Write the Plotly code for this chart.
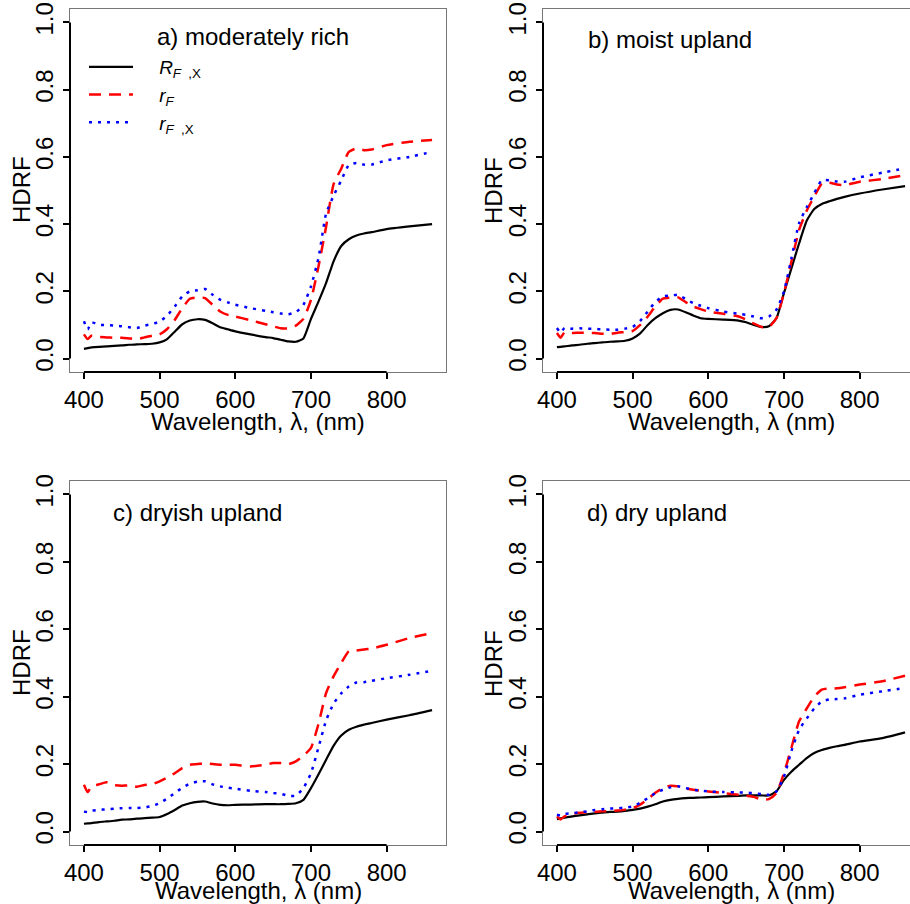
import plotly.graph_objects as go

# ---------------- data ----------------
wavelength = [400, 405, 410, 420, 430, 440, 450, 460, 470, 480, 490, 500, 510, 520, 530, 540, 550, 560, 570, 580,
              590, 600, 620, 640, 650, 660, 670, 680, 690, 700, 710, 720, 730, 740, 750, 760, 770, 780, 800, 830, 860]

# a) moderately rich
a_R_FX = [.029, .031, .033, .035, .036, .038, .039, .041, .042, .043, .044, .048, .058, .080, .102, .113, .117, .115, .105, .093,
          .087, .081, .072, .064, .061, .056, .051, .050, .060, .118, .170, .225, .290, .335, .355, .366, .372, .376, .385, .393, .400]
a_r_F = [.072, .058, .068, .064, .063, .062, .062, .060, .058, .063, .068, .072, .088, .115, .150, .178, .182, .180, .160, .140,
         .130, .125, .114, .102, .096, .090, .090, .098, .118, .175, .275, .393, .520, .565, .615, .625, .620, .622, .635, .645, .650]
a_r_FX = [.111, .087, .108, .100, .100, .098, .096, .093, .091, .098, .103, .110, .128, .155, .185, .200, .203, .207, .190, .175,
          .167, .160, .150, .142, .138, .134, .132, .138, .160, .215, .300, .432, .485, .530, .576, .582, .577, .577, .590, .600, .615]

# b) moist upland
b_R_FX = [.034, .035, .036, .039, .041, .044, .046, .048, .050, .051, .053, .060, .075, .100, .120, .135, .145, .146, .138, .128,
          .120, .118, .116, .113, .108, .100, .094, .096, .120, .195, .270, .343, .410, .445, .460, .468, .475, .481, .491, .503, .513]
b_r_F = [.076, .062, .078, .076, .077, .076, .076, .074, .073, .077, .079, .082, .100, .125, .155, .178, .181, .182, .168, .155,
         .147, .140, .133, .125, .116, .104, .094, .094, .120, .195, .290, .383, .440, .482, .520, .523, .518, .516, .526, .534, .546]
b_r_FX = [.091, .077, .091, .089, .090, .089, .088, .087, .086, .086, .089, .094, .112, .140, .168, .185, .187, .190, .177, .165,
          .157, .150, .140, .133, .130, .125, .120, .125, .145, .200, .300, .403, .450, .492, .531, .530, .527, .526, .539, .553, .566]

# c) dryish upland
c_R_FX = [.023, .024, .025, .028, .030, .032, .035, .036, .038, .040, .041, .043, .052, .064, .077, .084, .088, .089, .083, .079,
          .078, .079, .080, .081, .081, .081, .082, .084, .094, .129, .170, .213, .255, .285, .302, .311, .317, .322, .332, .345, .360]
c_r_F = [.139, .117, .134, .140, .146, .138, .136, .137, .133, .138, .140, .149, .160, .173, .188, .198, .200, .203, .200, .198,
         .198, .198, .193, .198, .203, .203, .200, .208, .225, .248, .320, .411, .461, .500, .535, .537, .540, .543, .554, .574, .589]
c_r_FX = [.059, .058, .062, .064, .066, .068, .069, .070, .070, .071, .076, .084, .098, .114, .130, .142, .148, .149, .140, .134,
          .130, .127, .121, .117, .114, .112, .106, .106, .129, .173, .250, .330, .380, .410, .430, .442, .443, .447, .455, .465, .477]

# d) dry upland
d_R_FX = [.037, .039, .041, .045, .048, .051, .054, .056, .058, .059, .061, .064, .068, .074, .081, .089, .094, .097, .099, .100,
          .101, .102, .104, .106, .107, .107, .107, .107, .119, .153, .178, .198, .218, .233, .242, .248, .253, .257, .267, .277, .294]
d_r_F = [.045, .036, .045, .052, .056, .057, .059, .060, .061, .062, .065, .069, .080, .096, .115, .129, .136, .134, .128, .124,
         .121, .119, .114, .109, .106, .103, .095, .096, .114, .173, .250, .327, .365, .400, .421, .424, .425, .428, .436, .446, .462]
d_r_FX = [.050, .048, .052, .054, .057, .060, .064, .066, .068, .069, .071, .074, .085, .099, .114, .124, .131, .134, .129, .124,
          .121, .119, .117, .116, .115, .114, .111, .109, .119, .163, .240, .302, .335, .365, .386, .392, .393, .395, .406, .416, .426]

panel_titles = ["a) moderately rich", "b) moist upland", "c) dryish upland", "d) dry upland"]
x_titles = ["Wavelength, λ, (nm)", "Wavelength, λ (nm)", "Wavelength, λ (nm)", "Wavelength, λ (nm)"]
y_title = "HDRF"
series_names = ["<i>R</i><sub><i>F</i>  ,X</sub>", "<i>r</i><sub><i>F</i></sub>", "<i>r</i><sub><i>F</i>  ,X</sub>"]
x_ticks = [400, 500, 600, 700, 800]
y_ticks = [0.0, 0.2, 0.4, 0.6, 0.8, 1.0]
y_ticktext = ["0.0", "0.2", "0.4", "0.6", "0.8", "1.0"]

panels = [(a_R_FX, a_r_F, a_r_FX), (b_R_FX, b_r_F, b_r_FX), (c_R_FX, c_r_F, c_r_FX), (d_R_FX, d_r_F, d_r_FX)]

# ---------------- styles ----------------
FONT = "Liberation Sans, Arial, sans-serif"
FS = 24
LFS = 19
styles = [dict(color="black", width=2.2, dash="solid"),
          dict(color="#ff0000", width=2.5, dash="12px,8px"),
          dict(color="#0000ff", width=2.5, dash="3px,6px")]

W, H = 910, 904
xdoms = [[70 / W, 446 / W], [543 / W, 1.0], [70 / W, 446 / W], [543 / W, 1.0]]
ydoms = [[1 - 372 / H, 1 - 9 / H], [1 - 372 / H, 1 - 9 / H], [1 - 845 / H, 1 - 481 / H], [1 - 845 / H, 1 - 481 / H]]
pxnm = (446 - 70) / (878.4 - 381.6)
xranges = [[381.6, 878.4], [381.6, 381.6 + (W - 543) / pxnm], [381.6, 878.4], [381.6, 381.6 + (W - 543) / pxnm]]
title_pos = [(155, 37), (586, 39), (111, 512), (585, 512)]
xtitle_pos = [(258, 421), (731, 421), (258, 890), (731, 890)]
ytitle_pos = [(21, 190), (493, 190), (21, 663), (493, 663)]

fig = go.Figure()
layout = dict(width=W, height=H, margin=dict(l=0, r=0, t=0, b=0), paper_bgcolor="white", plot_bgcolor="white",
              font=dict(family=FONT, size=FS, color="black"), showlegend=True)
shapes = []
annotations = []
for i, series in enumerate(panels):
    sx = "" if i == 0 else str(i + 1)
    for j, vals in enumerate(series):
        fig.add_trace(go.Scatter(x=wavelength, y=vals, mode="lines",
                                 name="\u00a0\u00a0\u00a0\u00a0" + series_names[j], legendgroup="g%d" % j,
                                 line=dict(color=styles[j]["color"], width=styles[j]["width"], dash=styles[j]["dash"],
                                           shape="spline", smoothing=0.5),
                                 showlegend=(i == 0), xaxis="x" + sx, yaxis="y" + sx, hoverinfo="skip"))
    layout["xaxis" + sx] = dict(domain=xdoms[i], range=xranges[i], anchor="y" + sx, tickvals=x_ticks,
                                ticks="outside", ticklen=6, tickwidth=2, tickcolor="black",
                                showline=True, linecolor="#777", linewidth=1, mirror=True, showgrid=False,
                                zeroline=False, automargin=False, tickfont=dict(size=FS))
    layout["yaxis" + sx] = dict(domain=ydoms[i], range=[-0.04, 1.04], anchor="x" + sx, tickvals=y_ticks,
                                ticktext=y_ticktext, tickangle=-90,
                                ticks="outside", ticklen=6, tickwidth=2, tickcolor="black",
                                showline=True, linecolor="#777", linewidth=1, mirror=True, showgrid=False,
                                zeroline=False, automargin=False, tickfont=dict(size=FS))
    # R-style axis lines spanning the tick range
    shapes.append(dict(type="line", xref="x" + sx, yref="y" + sx + " domain", x0=min(x_ticks), x1=max(x_ticks),
                       y0=0, y1=0, line=dict(color="black", width=2)))
    shapes.append(dict(type="line", xref="x" + sx + " domain", yref="y" + sx, x0=0, x1=0,
                       y0=min(y_ticks), y1=max(y_ticks), line=dict(color="black", width=2)))
    tx, ty = title_pos[i]
    annotations.append(dict(text=panel_titles[i], xref="paper", yref="paper", x=tx / W, y=1 - ty / H,
                            xanchor="left", yanchor="middle", showarrow=False, font=dict(size=FS)))
    ax_, ay_ = xtitle_pos[i]
    annotations.append(dict(text=x_titles[i], xref="paper", yref="paper", x=ax_ / W, y=1 - ay_ / H,
                            xanchor="center", yanchor="middle", showarrow=False, font=dict(size=FS)))
    bx_, by_ = ytitle_pos[i]
    annotations.append(dict(text=y_title, xref="paper", yref="paper", x=bx_ / W, y=1 - by_ / H, textangle=-90,
                            xanchor="center", yanchor="middle", showarrow=False, font=dict(size=FS)))

layout["shapes"] = shapes
layout["annotations"] = annotations
layout["legend"] = dict(x=84 / W, y=1 - 48 / H, xanchor="left", yanchor="top", bgcolor="rgba(0,0,0,0)",
                        font=dict(size=LFS), itemwidth=44, tracegroupgap=0)
fig.update_layout(**layout)
fig.write_html("out.html", config={"displayModeBar": False},
               post_script="document.body.style.margin='0';document.body.style.overflow='hidden';")
